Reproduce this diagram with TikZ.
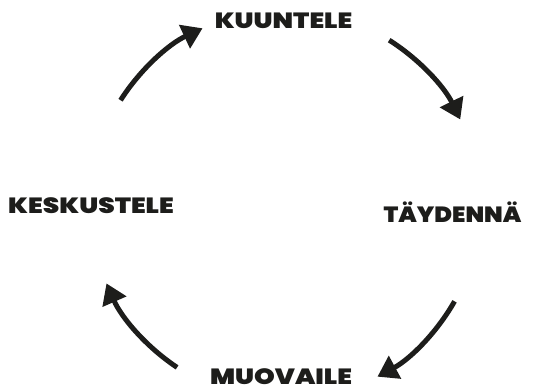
\documentclass[tikz,border=0pt]{standalone}
\usepackage{fontspec}
\setmainfont{Poppins Black}[FakeStretch=1.2]
\newfontfamily\narrowblack{Poppins Black}[FakeStretch=1.09]
\usetikzlibrary{arrows.meta}
\definecolor{ink}{RGB}{29,29,27}
\tikzset{
  lbl/.style={font=\fontsize{22}{22}\selectfont, text=ink, inner sep=0pt, anchor=base},
  arr/.style={draw=ink, line width=5pt, -{Triangle[length=20pt,width=25pt]}},
}
\begin{document}
\begin{tikzpicture}[x=1pt,y=1pt]
\useasboundingbox (0,0) rectangle (541,389);
\coordinate (c) at (285,184);
\node[lbl] (kuuntele) at (283.5,360) {KUUNTELE};
\node[lbl, font=\fontsize{22}{22}\narrowblack] (taydenna) at (452.5,167) {TÄYDENNÄ};
\node[lbl] (muovaile) at (281,5) {MUOVAILE};
\node[lbl] (keskustele) at (91,176) {KESKUSTELE};
\draw[arr] ([shift={(147.5:195)}]c) arc[start angle=147.5, end angle=115, radius=195];
\draw[arr] ([shift={(57.7:195)}]c) arc[start angle=57.7, end angle=26, radius=195];
\draw[arr] ([shift={(-29.6:195)}]c) arc[start angle=-29.6, end angle=-61.7, radius=195];
\draw[arr] ([shift={(-123.6:195)}]c) arc[start angle=-123.6, end angle=-156.3, radius=195];
\end{tikzpicture}
\end{document}
